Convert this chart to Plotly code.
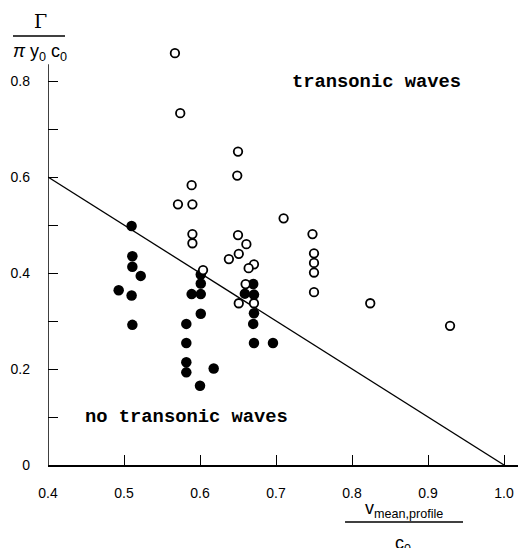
import plotly.graph_objects as go

# --- data ---
open_x = [0.567, 0.574, 0.650, 0.649, 0.589, 0.571, 0.590, 0.710, 0.590, 0.650,
          0.748, 0.590, 0.661, 0.651, 0.638, 0.671, 0.664, 0.604, 0.750, 0.750,
          0.750, 0.750, 0.660, 0.651, 0.671, 0.824, 0.929]
open_y = [0.858, 0.733, 0.653, 0.603, 0.583, 0.543, 0.543, 0.514, 0.481, 0.479,
          0.481, 0.462, 0.460, 0.440, 0.429, 0.418, 0.410, 0.406, 0.441, 0.421,
          0.401, 0.360, 0.377, 0.337, 0.337, 0.337, 0.290]

filled_x = [0.510, 0.511, 0.511, 0.522, 0.493, 0.510, 0.511, 0.601, 0.601, 0.589,
            0.601, 0.670, 0.659, 0.671, 0.671, 0.601, 0.582, 0.670, 0.582, 0.671,
            0.696, 0.582, 0.582, 0.618, 0.600]
filled_y = [0.498, 0.435, 0.413, 0.394, 0.364, 0.353, 0.292, 0.397, 0.378, 0.356,
            0.356, 0.377, 0.357, 0.355, 0.316, 0.315, 0.294, 0.294, 0.254, 0.254,
            0.254, 0.214, 0.193, 0.201, 0.165]

boundary_x = [0.4, 1.0]
boundary_y = [0.6, 0.0]

x_tickvals = [0.4, 0.5, 0.6, 0.7, 0.8, 0.9, 1.0]
x_ticktext = ["0.4", "0.5", "0.6", "0.7", "0.8", "0.9", "1.0"]
y_tickvals = [0.0, 0.2, 0.4, 0.6, 0.8]
y_ticktext = ["0", "0.2", "0.4", "0.6", "0.8"]
y_minor_tickvals = [0.1, 0.3, 0.5, 0.7]

fig = go.Figure()

fig.add_trace(go.Scatter(x=boundary_x, y=boundary_y, mode="lines",
                         line=dict(color="black", width=1.3), hoverinfo="skip"))
fig.add_trace(go.Scatter(x=filled_x, y=filled_y, mode="markers",
                         marker=dict(size=10.5, color="black",
                                     line=dict(color="black", width=0))))
fig.add_trace(go.Scatter(x=open_x, y=open_y, mode="markers",
                         marker=dict(size=8.5, color="white",
                                     line=dict(color="black", width=1.8))))

tick_font = dict(family="Liberation Sans", size=14, color="black")

fig.update_layout(
    width=518, height=548,
    margin=dict(l=48, r=0, t=33, b=83),
    paper_bgcolor="white", plot_bgcolor="white",
    showlegend=False,
    xaxis=dict(range=[0.4, 1.0184], tickvals=x_tickvals, ticktext=x_ticktext,
               ticks="inside", ticklen=10, tickwidth=1.3, tickcolor="black",
               showline=True, linecolor="black", linewidth=1.5,
               showgrid=False, zeroline=False, tickfont=tick_font,
               ticklabelstandoff=14, automargin=False),
    yaxis=dict(range=[0, 0.9], tickvals=y_tickvals, ticktext=y_ticktext,
               ticks="inside", ticklen=10, tickwidth=1.3, tickcolor="black",
               showline=False, showgrid=False, zeroline=False, tickfont=tick_font,
               ticklabelstandoff=17, automargin=False,
               minor=dict(tickvals=y_minor_tickvals, ticks="inside", ticklen=10,
                          tickwidth=1.3, tickcolor="black", showgrid=False)),
)

# y axis line that stops short of the top, as in the original
fig.add_shape(type="line", xref="x", yref="y", x0=0.4, x1=0.4, y0=0, y1=0.835,
              line=dict(color="black", width=1.5), layer="above")

label_font = dict(family="Liberation Mono", size=18.8, color="black")
fig.add_annotation(x=0.8316, y=0.798, xref="x", yref="y", text="<b>transonic waves</b>",
                   showarrow=False, font=label_font, xanchor="center", yanchor="middle")
fig.add_annotation(x=0.5816, y=0.10, xref="x", yref="y", text="<b>no transonic waves</b>",
                   showarrow=False, font=label_font, xanchor="center", yanchor="middle")

# y axis title (fraction)
fig.add_annotation(x=-0.0149, y=1.0278, xref="paper", yref="paper", text="Γ",
                   showarrow=False, font=dict(family="DejaVu Serif", size=19, color="black"),
                   xanchor="center", yanchor="middle")
fig.add_shape(type="line", xref="paper", yref="paper", x0=-0.0745, x1=0.0362,
              y0=0.993, y1=0.993, line=dict(color="black", width=1.3))
fig.add_annotation(x=-0.017, y=0.954, xref="paper", yref="paper",
                   text="<i>π</i> y<sub>0</sub> c<sub>0</sub>",
                   showarrow=False, font=dict(family="Liberation Sans", size=18, color="black"),
                   xanchor="center", yanchor="middle")

# x axis title (fraction)
fig.add_annotation(x=0.757, y=-0.103, xref="paper", yref="paper",
                   text="v<sub>mean,profile</sub>",
                   showarrow=False, font=dict(family="Liberation Sans", size=18, color="black"),
                   xanchor="center", yanchor="middle")
fig.add_shape(type="line", xref="paper", yref="paper", x0=0.632, x1=0.883,
              y0=-0.132, y1=-0.132, line=dict(color="black", width=1.3))
fig.add_annotation(x=0.755, y=-0.185, xref="paper", yref="paper",
                   text="c<sub>0</sub>",
                   showarrow=False, font=dict(family="Liberation Sans", size=18, color="black"),
                   xanchor="center", yanchor="middle")

fig.write_html("out.html",
               config={"displayModeBar": False},
               post_script="document.body.style.margin='0';document.body.style.overflow='hidden';")
